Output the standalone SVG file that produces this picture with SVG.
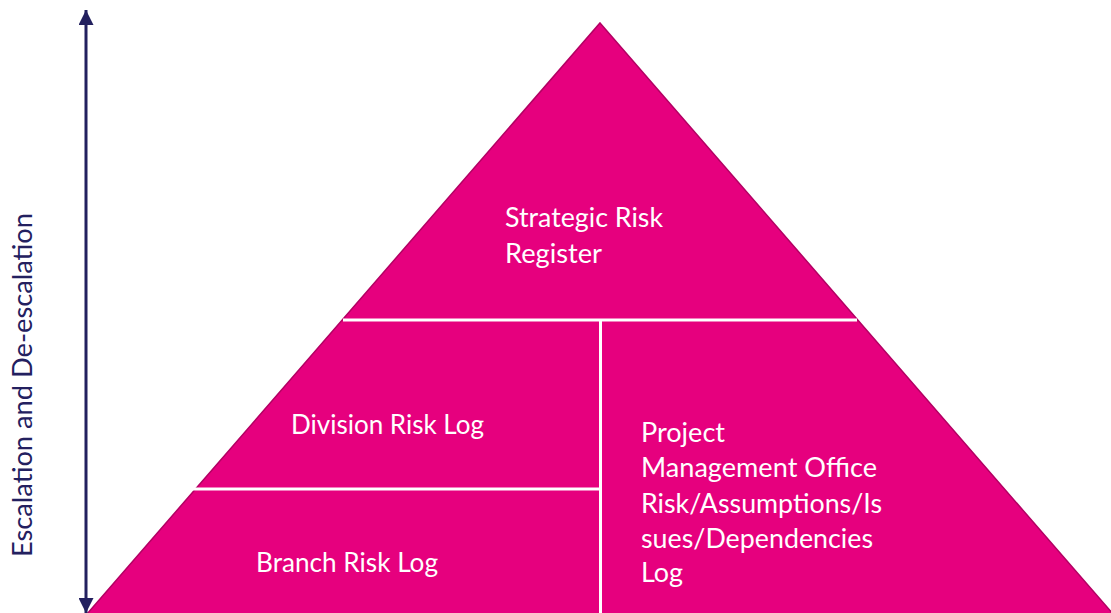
<svg xmlns="http://www.w3.org/2000/svg" width="1111" height="613" viewBox="0 0 1111 613">
  <style>
    .lbl { font-family: Lato, "Open Sans", "Liberation Sans", sans-serif; font-size: 27px; fill: #ffffff; }
    .axis { font-family: Lato, "Open Sans", "Liberation Sans", sans-serif; font-size: 27px; fill: #23205f; }
    .div { stroke: #ffffff; stroke-width: 3; fill: none; }
  </style>
  <defs>
    <marker id="head" viewBox="0 0 10 10" refX="10" refY="5" markerWidth="5" markerHeight="5" markerUnits="strokeWidth" orient="auto">
      <path d="M0,0 L10,5 L0,10 Z" fill="#23205f"/>
    </marker>
  </defs>
  <rect width="1111" height="613" fill="#ffffff"/>

  <!-- pyramid body -->
  <g id="pyramid">
    <polygon points="600,23 1113,614 87,614" fill="#e6007e" stroke="#b30063" stroke-width="1.5"/>
  </g>

  <!-- tier dividers -->
  <g id="dividers">
    <line class="div" x1="343" y1="320" x2="857" y2="320"/>
    <line class="div" x1="600.5" y1="320" x2="600.5" y2="613"/>
    <line class="div" x1="192" y1="489" x2="599" y2="489"/>
  </g>

  <g id="strategic">
    <text class="lbl" x="505" y="227" textLength="158" lengthAdjust="spacingAndGlyphs">Strategic Risk</text>
    <text class="lbl" x="505" y="263" textLength="97" lengthAdjust="spacingAndGlyphs">Register</text>
  </g>

  <g id="division">
    <text class="lbl" x="291" y="434" textLength="193" lengthAdjust="spacingAndGlyphs">Division Risk Log</text>
  </g>

  <g id="branch">
    <text class="lbl" x="256" y="572" textLength="182" lengthAdjust="spacingAndGlyphs">Branch Risk Log</text>
  </g>

  <g id="pmo">
    <text class="lbl" x="641" y="442" textLength="84" lengthAdjust="spacingAndGlyphs">Project</text>
    <text class="lbl" x="641" y="477" textLength="236" lengthAdjust="spacingAndGlyphs">Management Office</text>
    <text class="lbl" x="641" y="513" textLength="241" lengthAdjust="spacingAndGlyphs">Risk/Assumptions/Is</text>
    <text class="lbl" x="641" y="548" textLength="232" lengthAdjust="spacingAndGlyphs">sues/Dependencies</text>
    <text class="lbl" x="641" y="582" textLength="42" lengthAdjust="spacingAndGlyphs">Log</text>
  </g>

  <!-- escalation axis -->
  <g id="connectors">
    <line x1="86" y1="300" x2="86" y2="10" stroke="#23205f" stroke-width="3" marker-end="url(#head)"/>
    <line x1="86" y1="300" x2="86" y2="613" stroke="#23205f" stroke-width="3" marker-end="url(#head)"/>
  </g>

  <g id="axis-label">
    <text class="axis" transform="translate(32,557) rotate(-90)" textLength="344" lengthAdjust="spacingAndGlyphs">Escalation and De-escalation</text>
  </g>
</svg>
